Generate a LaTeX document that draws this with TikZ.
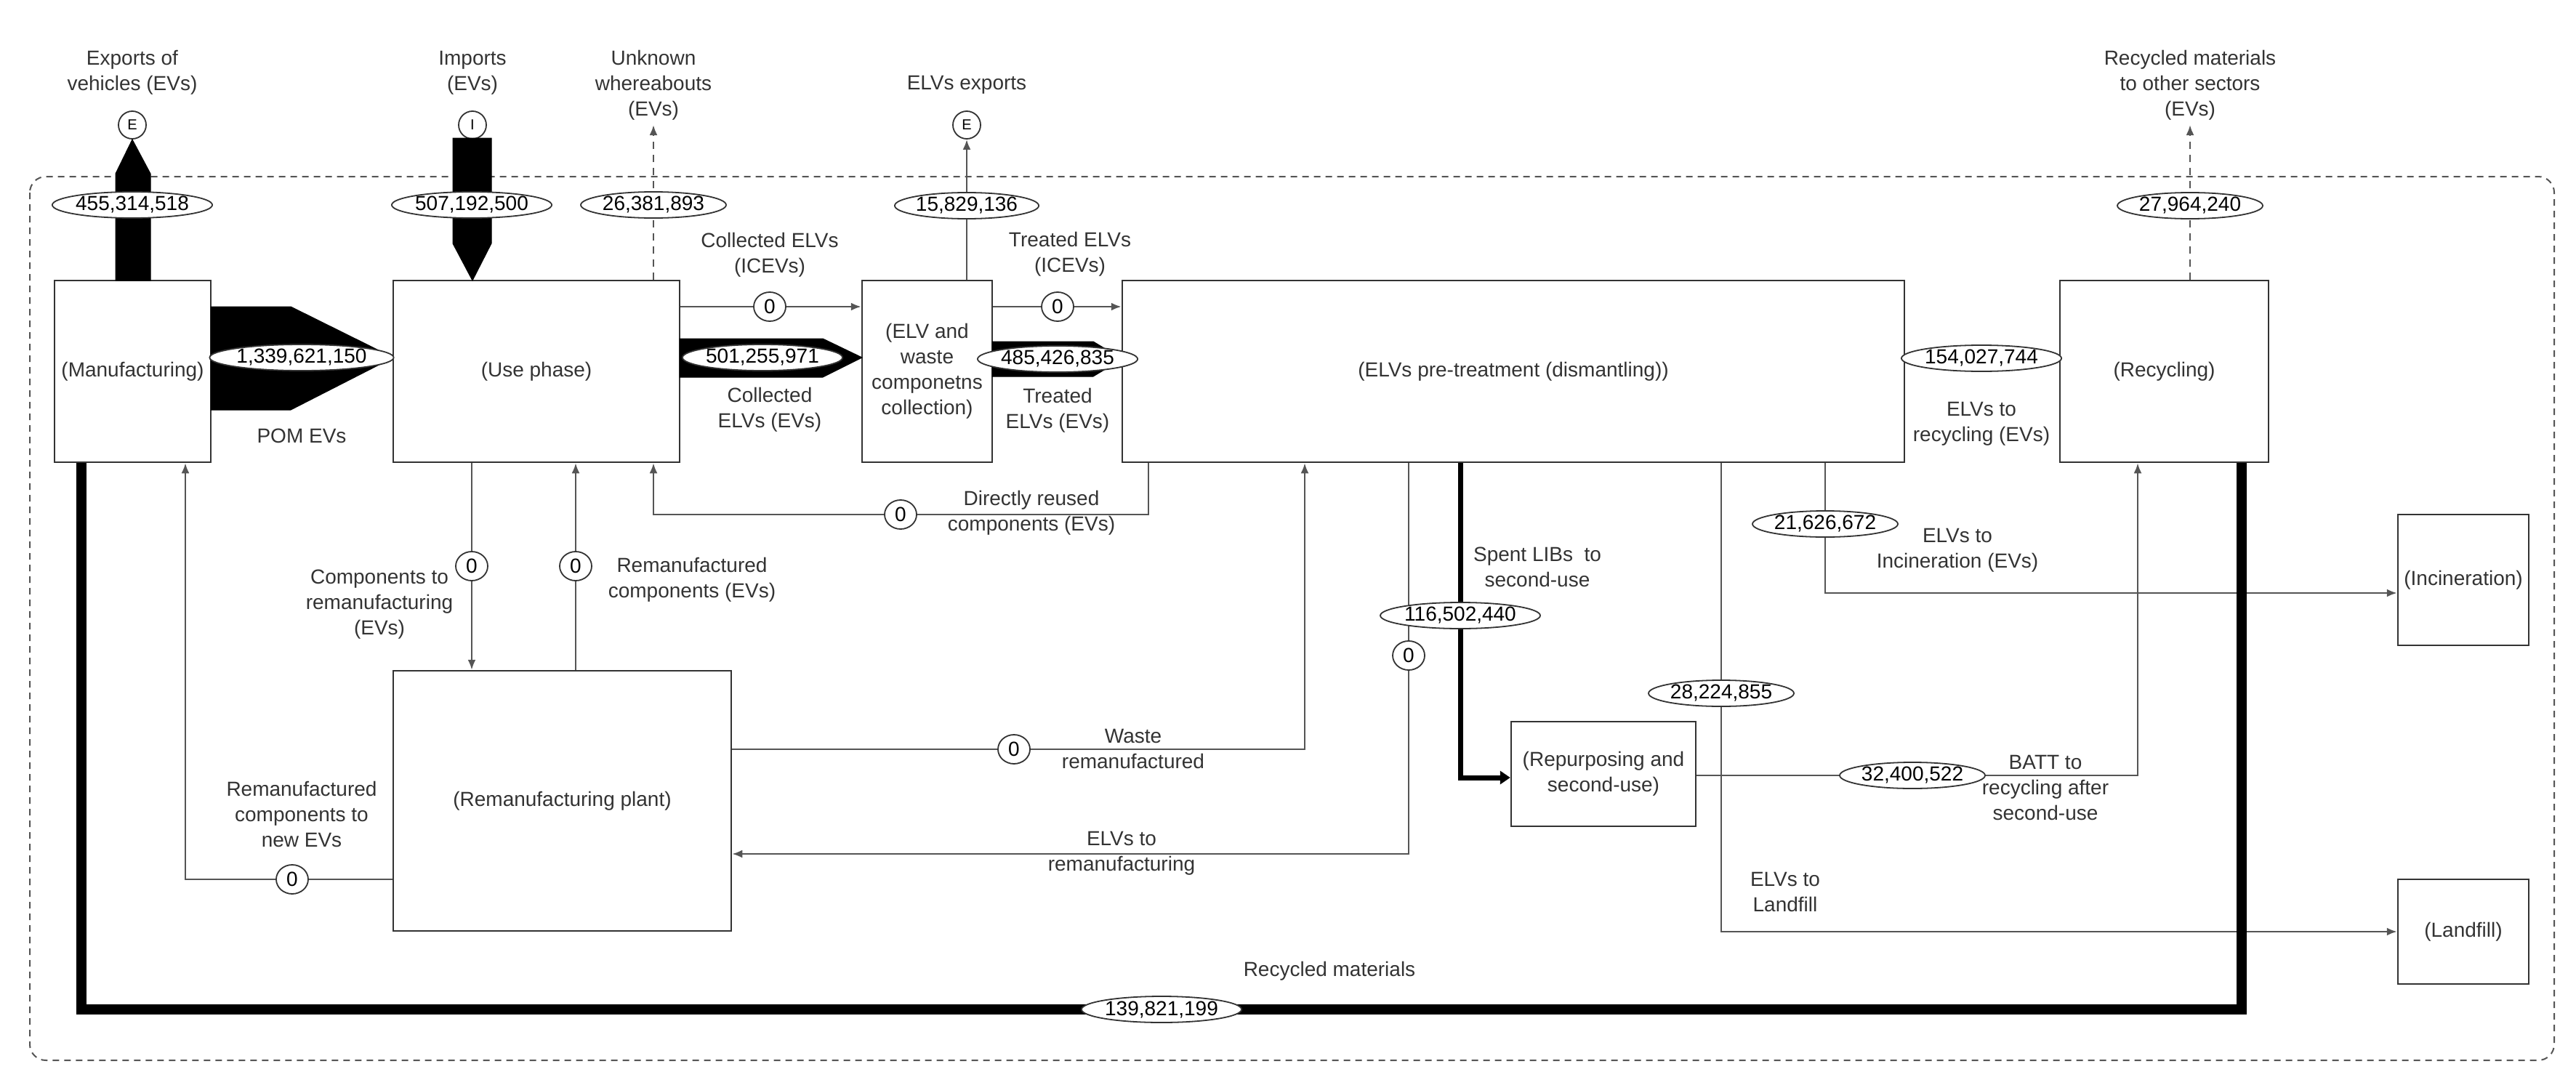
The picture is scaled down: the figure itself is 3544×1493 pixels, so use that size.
\documentclass[tikz,border=0pt]{standalone}
\usepackage{fontspec}
\setmainfont{Liberation Sans}
\usetikzlibrary{shapes.geometric,arrows.meta}
\definecolor{ln}{HTML}{555555}
\definecolor{tx}{HTML}{333333}
\begin{document}
\fontsize{28pt}{35pt}\selectfont
\begin{tikzpicture}[x=1pt,y=-1pt,
  box/.style={draw=tx,line width=2.5pt,fill=white,align=center,text=tx,inner sep=2pt},
  val/.style={ellipse,draw=tx,line width=1.8pt,fill=white,inner sep=0pt,minimum width=200pt,minimum height=36pt,text=black},
  zero/.style={ellipse,draw=tx,line width=1.8pt,fill=white,inner sep=0pt,minimum width=44pt,minimum height=40pt},
  circ/.style={circle,draw=tx,line width=1.8pt,fill=white,inner sep=0pt,minimum size=38pt,font=\fontsize{20pt}{22pt}\selectfont},
  lab/.style={align=center,text=tx,inner sep=0pt},
  con/.style={draw=ln,line width=2.5pt},
  arr/.style={con,-{Latex[length=14pt,width=11pt]}},
  dsh/.style={arr,dashed,dash pattern=on 10pt off 8pt},
  band/.style={fill=black,draw=black,line width=1pt},
  thick/.style={draw=black,line width=14pt}]
\useasboundingbox (0,0) rectangle (3544,1493);
\draw[draw=ln,line width=2pt,dash pattern=on 9pt off 7pt,rounded corners=22pt] (41,243) rectangle (3514,1459);

% boxes
\node[box,minimum width=215pt,minimum height=250pt] (man) at (182.5,511) {(Manufacturing)};
\node[box,minimum width=394pt,minimum height=250pt] (use) at (738,511) {(Use phase)};
\node[box,minimum width=179pt,minimum height=250pt] (col) at (1275.5,511) {(ELV and\\waste\\componetns\\collection)};
\node[box,minimum width=1076pt,minimum height=250pt] (pre) at (2082,511) {(ELVs pre-treatment (dismantling))};
\node[box,minimum width=287pt,minimum height=250pt] (rec) at (2977.5,511) {(Recycling)};
\node[box,minimum width=180pt,minimum height=180pt] (inc) at (3389,798) {(Incineration)};
\node[box,minimum width=180pt,minimum height=144pt] (lan) at (3389,1282) {(Landfill)};
\node[box,minimum width=465pt,minimum height=358pt] (rem) at (773.5,1102) {(Remanufacturing plant)};
\node[box,minimum width=254pt,minimum height=144pt] (rep) at (2206,1065) {(Repurposing and\\second-use)};

% external circles
\node[circ] (E1) at (182,172) {E};
\node[circ] (I1) at (650,172) {I};
\node[circ] (E2) at (1330,172) {E};
\coordinate (unk) at (899,172);
\coordinate (rmo) at (3013,172);

% bands
\draw[band] (159,386) -- (159,239) -- (182,192) -- (207,239) -- (207,386) -- cycle;
\draw[band] (623,190) -- (676,190) -- (676,335) -- (650,386) -- (623,335) -- cycle;
\draw[band] (290,422) -- (400,422) -- (541,492) -- (400,564) -- (290,564) -- cycle;
\draw[band] (935,466) -- (1132,466) -- (1186,492) -- (1132,519) -- (935,519) -- cycle;
\draw[band] (1365,470) -- (1504,470) -- (1544,494) -- (1504,518) -- (1365,518) -- cycle;

% thin flows
\draw[dsh] (use.north -| unk) -- (unk);
\draw[arr] (col.north -| E2) -- (E2);
\draw[dsh] (rec.north -| rmo) -- (rmo);
\draw[arr] (use.east |- 0,422) -- (col.west |- 0,422);
\draw[arr] (col.east |- 0,422) -- (pre.west |- 0,422);
\draw[arr] (rec.west |- 0,493) -- (pre.east |- 0,493);
\draw[arr] (pre.south -| 1580,0) |- (899,708) -- (use.south -| 899,0);
\draw[arr] (use.south -| 649,0) -- (rem.north -| 649,0);
\draw[arr] (rem.north -| 792,0) -- (use.south -| 792,0);
\draw[arr] (rem.west |- 0,1210) -| (man.south -| 255,0);
\draw[arr] (rem.east |- 0,1031) -| (pre.south -| 1795,0);
\draw[arr] (pre.south -| 1938,0) |- (rem.east |- 0,1175);
\draw[arr] (pre.south -| 2511,0) |- (inc.west |- 0,816);
\draw[arr] (pre.south -| 2368,0) |- (lan.west);
\draw[arr] (rep.east |- 0,1067) -| (rec.south -| 2941,0);
\draw[draw=black,line width=7pt,-{Triangle[length=14pt,width=18pt]}] (pre.south -| 2009,0) |- (rep.west |- 0,1070);
\draw[thick] (rec.south -| 3084,0) |- (112,1389) -- (man.south -| 112,0);

% value ellipses
\node[val] at (182,282) {455,314,518};
\node[val] at (649,282) {507,192,500};
\node[val] at (899,282) {26,381,893};
\node[val,minimum width=188pt] at (1330,283) {15,829,136};
\node[val] at (3013,283) {27,964,240};
\node[val,minimum width=224pt] at (415,492) {1,339,621,150};
\node[val,minimum width=190pt] at (1049,492) {501,255,971};
\node[val,minimum width=170pt] at (1455,494) {485,426,835};
\node[val,minimum width=208pt] at (2726,493) {154,027,744};
\node[val] at (2511,721) {21,626,672};
\node[val,minimum width=220pt] at (2009,847) {116,502,440};
\node[val] at (2368,954) {28,224,855};
\node[val] at (2631,1067) {32,400,522};
\node[val,minimum width=210pt] at (1598,1389) {139,821,199};

% zeros
\node[zero] at (1059,422) {0};
\node[zero] at (1455,422) {0};
\node[zero] at (1239,708) {0};
\node[zero] at (649,779) {0};
\node[zero] at (792,779) {0};
\node[zero] at (402,1210) {0};
\node[zero] at (1395,1031) {0};
\node[zero] at (1938,902) {0};

% labels
\node[lab] at (182,100) {Exports of\\vehicles (EVs)};
\node[lab] at (650,100) {Imports\\(EVs)};
\node[lab] at (899,117) {Unknown\\whereabouts\\(EVs)};
\node[lab] at (1330,117) {ELVs exports};
\node[lab] at (3013,117) {Recycled materials\\to other sectors\\(EVs)};
\node[lab] at (415,600) {POM EVs};
\node[lab] at (1059,351) {Collected ELVs\\(ICEVs)};
\node[lab] at (1059,564) {Collected\\ELVs (EVs)};
\node[lab] at (1472,350) {Treated ELVs\\(ICEVs)};
\node[lab] at (1455,565) {Treated\\ELVs (EVs)};
\node[lab] at (1419,706) {Directly reused\\components (EVs)};
\node[lab] at (522,832) {Components to\\remanufacturing\\(EVs)};
\node[lab] at (952,798) {Remanufactured\\components (EVs)};
\node[lab] at (415,1120) {Remanufactured\\components to\\new EVs};
\node[lab] at (1559,1030) {Waste\\remanufactured};
\node[lab] at (1543,1174) {ELVs to\\remanufacturing};
\node[lab] at (2115,780) {Spent LIBs\ \ to\\second-use};
\node[lab] at (2726,583) {ELVs to\\recycling (EVs)};
\node[lab] at (2693,757) {ELVs to\\Incineration (EVs)};
\node[lab] at (2814,1084) {BATT to\\recycling after\\second-use};
\node[lab] at (2456,1227) {ELVs to\\Landfill};
\node[lab] at (1829,1336) {Recycled materials};
\end{tikzpicture}
\end{document}
